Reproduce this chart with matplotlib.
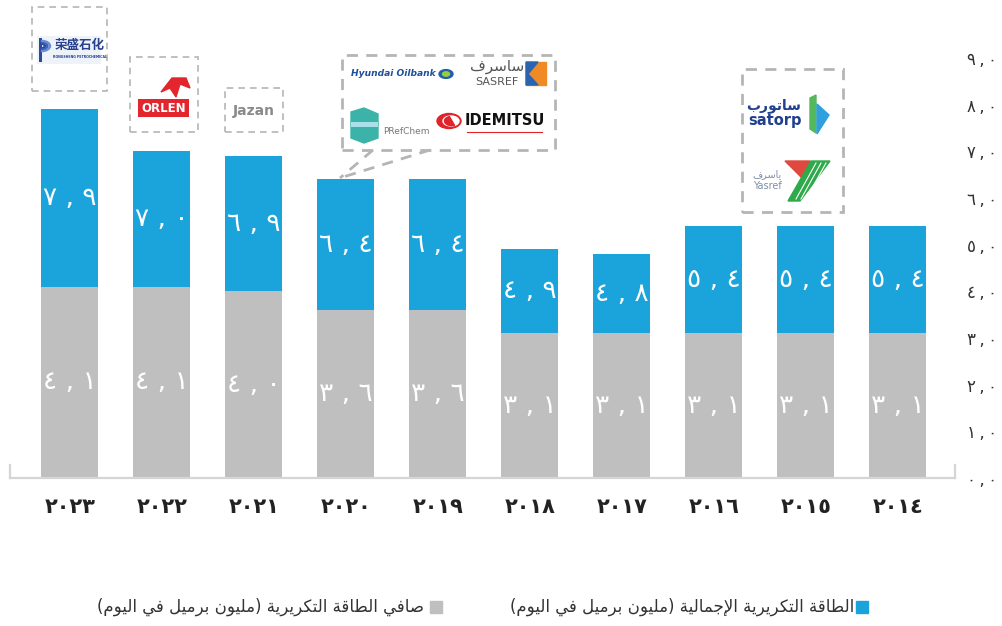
import unicodedata as ud
import matplotlib
matplotlib.use("Agg")
import matplotlib.pyplot as plt
from matplotlib.patches import Rectangle, Circle, Polygon, Wedge
from matplotlib.lines import Line2D

# ---------------- data ----------------
years = [2023, 2022, 2021, 2020, 2019, 2018, 2017, 2016, 2015, 2014]
total_capacity = [7.9, 7.0, 6.9, 6.4, 6.4, 4.9, 4.8, 5.4, 5.4, 5.4]
net_capacity = [4.1, 4.1, 4.0, 3.6, 3.6, 3.1, 3.1, 3.1, 3.1, 3.1]
y_ticks = [0, 1, 2, 3, 4, 5, 6, 7, 8, 9]
legend_total = "الطاقة التكريرية الإجمالية (مليون برميل في اليوم)"
legend_net = "صافي الطاقة التكريرية (مليون برميل في اليوم)"

BLUE = "#1ba3dc"
GREY = "#bfbfbf"
TXT = "#333333"

AR_DIG = str.maketrans("0123456789", "٠١٢٣٤٥٦٧٨٩")


def ar_num(v, sep=" , "):
    s = f"{v:.1f}".translate(AR_DIG)
    return s.replace(".", sep)


def shape_ar(s):
    RIGHT = set("اأإآدذرزوؤةى")
    NONE = set("ء")

    def is_ar(c):
        return "\u0621" <= c <= "\u064A"

    def dual(c):
        return is_ar(c) and c not in RIGHT and c not in NONE

    def joins_prev(c):
        return is_ar(c) and c not in NONE

    out = []
    i, n = 0, len(s)
    while i < n:
        c = s[i]
        if not is_ar(c):
            out.append(c)
            i += 1
            continue
        p = s[i - 1] if i > 0 else ""
        pj = bool(p) and dual(p)
        if c == "ل" and i + 1 < n and s[i + 1] in "اأإآ":
            a = s[i + 1]
            base = "ARABIC LIGATURE LAM WITH " + ud.name(a)[len("ARABIC LETTER "):]
            out.append(ud.lookup(base + (" FINAL FORM" if pj else " ISOLATED FORM")))
            i += 2
            continue
        nx = s[i + 1] if i + 1 < n else ""
        nj = dual(c) and bool(nx) and joins_prev(nx)
        form = "MEDIAL" if (pj and nj) else "FINAL" if pj else "INITIAL" if nj else "ISOLATED"
        out.append(ud.lookup(ud.name(c) + " " + form + " FORM"))
        i += 1
    vis = "".join(out)[::-1]
    return vis.translate(str.maketrans("()", ")("))


W, H = 1003, 626
fig = plt.figure(figsize=(W / 100, H / 100), dpi=100)
plt.rcParams["font.family"] = ["DejaVu Sans"]


def fx(x):
    return x / W


def fy(y):
    return 1 - y / H


ax = fig.add_axes([fx(10), fy(478), fx(955) - fx(10), fy(58) - fy(478)])
xs = list(range(len(years)))
bw = 0.62
blue_h = [t - n for t, n in zip(total_capacity, net_capacity)]
ax.bar(xs, net_capacity, width=bw, color=GREY, zorder=2)
ax.bar(xs, blue_h, bottom=net_capacity, width=bw, color=BLUE, zorder=2)

for x, t, n in zip(xs, total_capacity, net_capacity):
    ax.text(x, n / 2, ar_num(n), ha="center", va="center", color="white",
            fontsize=19, zorder=3)
    ax.text(x, (t + n) / 2, ar_num(t), ha="center", va="center", color="white",
            fontsize=19, zorder=3)

ax.set_xlim(-0.65, 9.62)
ax.set_ylim(0, 9)
ax.set_xticks(xs)
ax.set_xticklabels([str(y).translate(AR_DIG) for y in years], fontsize=15,
                   color="#222222", fontweight="bold")
ax.yaxis.tick_right()
ax.set_yticks(y_ticks)
ax.set_yticklabels([ar_num(v, "\u2009,\u2009") for v in y_ticks], fontsize=12,
                   color=TXT)
ax.tick_params(axis="x", length=0, pad=14)
ax.tick_params(axis="y", length=0, pad=9)
for sp in ["top", "left", "right"]:
    ax.spines[sp].set_visible(False)
ax.spines["bottom"].set_color("#d5d5d5")
ax.spines["bottom"].set_linewidth(1.6)
ax.set_facecolor("none")
# small end caps of the baseline
fig.add_artist(Line2D([fx(10), fx(10)], [fy(478), fy(465)], color="#d5d5d5", lw=1.6))
fig.add_artist(Line2D([fx(955), fx(955)], [fy(478), fy(465)], color="#d5d5d5", lw=1.6))

# ---------------- legend ----------------
fig.add_artist(Rectangle((fx(856), fy(613)), fx(12), fy(601) - fy(613), color=BLUE))
fig.text(fx(854), fy(607), shape_ar(legend_total), ha="right", va="center",
         fontsize=12, color=TXT)
fig.add_artist(Rectangle((fx(430), fy(613)), fx(12), fy(601) - fy(613), color=GREY))
fig.text(fx(424), fy(607), shape_ar(legend_net), ha="right", va="center",
         fontsize=12, color=TXT)

# ---------------- logo boxes ----------------
DASH = dict(fill=False, edgecolor="#b5b5b5", lw=1.5, linestyle=(0, (4, 3)))


def box(x0, y0, x1, y1, **kw):
    d = dict(DASH)
    d.update(kw)
    fig.add_artist(Rectangle((fx(x0), fy(y1)), fx(x1 - x0), fy(y0) - fy(y1), **d))


def rect(x0, y0, x1, y1, color):
    fig.add_artist(Rectangle((fx(x0), fy(y1)), fx(x1 - x0), fy(y0) - fy(y1),
                             color=color, lw=0))


# Rongsheng
box(32, 7, 107, 91, lw=1.2)
rect(37, 36, 101, 64, "#eef3fa")
rect(39, 38, 41.5, 62, "#2b4a9b")
for k, c in enumerate(["#2b4a9b", "#3d63b8", "#6d8fd0"]):
    fig.add_artist(Wedge((fx(41.5), fy(46)), fx(4 + 2.5 * k), -90, 90, width=fx(1.2),
                         color=c, transform=fig.transFigure))
fig.text(fx(80), fy(46), "荣盛石化", family=["Noto Sans CJK SC"], fontsize=9,
         color="#27418f", ha="center", va="center", fontweight="bold")
fig.text(fx(80), fy(57), "RONGSHENG PETROCHEMICAL", fontsize=2.3, color="#27418f",
         ha="center", va="center", fontweight="bold")

# Orlen
box(130, 57, 198, 132, lw=1.2)
fig.add_artist(Polygon([[fx(161), fy(92)], [fx(172), fy(78)], [fx(186), fy(78)],
                        [fx(190), fy(88)], [fx(180), fy(84)], [fx(176), fy(97)],
                        [fx(170), fy(88)]], closed=True, color="#e3262e"))
rect(138, 99, 189, 117, "#e3262e")
fig.text(fx(163.5), fy(108), "ORLEN", fontsize=8.5, color="white", ha="center",
         va="center", fontweight="bold")

# Jazan
box(225, 88, 283, 132, lw=1.2)
fig.text(fx(254), fy(111), "Jazan", fontsize=10, color="#8a8a8a", ha="center",
         va="center", fontweight="bold")

# group box 2020
box(342, 55, 555, 150, lw=2)
fig.add_artist(Line2D([fx(373), fx(340)], [fy(150), fy(178)], color="#b5b5b5", lw=2,
                      linestyle=(0, (4, 3))))
fig.add_artist(Line2D([fx(430), fx(340)], [fy(150), fy(178)], color="#b5b5b5", lw=2,
                      linestyle=(0, (4, 3))))
fig.text(fx(393), fy(74), "Hyundai Oilbank", fontsize=6.6, color="#1d4f9f",
         ha="center", va="center", fontweight="bold", style="italic")
fig.add_artist(Circle((fx(446), fy(74)), fx(7), color="#1f5fae",
                      transform=fig.transFigure))
fig.add_artist(Circle((fx(446), fy(74)), fx(3.5), color="#9ccc3c",
                      transform=fig.transFigure))
fig.text(fx(497), fy(66), shape_ar("ساسرف"), fontsize=11, color="#555555",
         ha="center", va="center")
fig.text(fx(497), fy(82), "SASREF", fontsize=8, color="#555555", ha="center",
         va="center")
fig.add_artist(Polygon([[fx(526), fy(62)], [fx(546), fy(62)], [fx(546), fy(85)],
                        [fx(526), fy(85)]], closed=True, color="#f08a24"))
fig.add_artist(Polygon([[fx(526), fy(62)], [fx(538), fy(62)], [fx(528), fy(74)],
                        [fx(538), fy(85)], [fx(526), fy(85)]], closed=True,
                       color="#2a64b0"))
# PRefChem
fig.add_artist(Polygon([[fx(351), fy(112)], [fx(364), fy(108)], [fx(378), fy(114)],
                        [fx(378), fy(138)], [fx(364), fy(143)], [fx(351), fy(138)]],
                       closed=True, color="#3bb3a8"))
rect(351, 122, 378, 127, "#a9dfe8")
fig.text(fx(406), fy(131), "PRefChem", fontsize=6.5, color="#777777", ha="center",
         va="center")
# Idemitsu
fig.add_artist(Circle((fx(449), fy(121)), fx(12), color="#e0242b",
                      transform=fig.transFigure))
fig.add_artist(Circle((fx(451), fy(121)), fx(8), color="white",
                      transform=fig.transFigure))
fig.add_artist(Wedge((fx(452), fy(121)), fx(7.5), 110, 290, color="#e0242b",
                     transform=fig.transFigure))
fig.text(fx(505), fy(120), "IDEMITSU", fontsize=10.5, color="#111111", ha="center",
         va="center", fontweight="bold")
fig.add_artist(Line2D([fx(467), fx(542)], [fy(132), fy(132)], color="#e0242b", lw=0.8))

# Satorp / Yasref box
box(742, 69, 843, 212, lw=2)
fig.text(fx(774), fy(106), shape_ar("ساتورب"), fontsize=10, color="#1f3f8f",
         ha="center", va="center", fontweight="bold")
fig.text(fx(775), fy(121), "satorp", fontsize=10.5, color="#1f3f8f", ha="center",
         va="center", fontweight="bold")
fig.add_artist(Polygon([[fx(810), fy(98)], [fx(816), fy(95)], [fx(816), fy(133)],
                        [fx(810), fy(129)]], closed=True, color="#54b85c"))
fig.add_artist(Polygon([[fx(817), fy(104)], [fx(829), fy(115)], [fx(817), fy(134)]],
                       closed=True, color="#2fa0dd"))
fig.text(fx(767), fy(174), shape_ar("ياسرف"), fontsize=7, color="#7d8ea8",
         ha="center", va="center")
fig.text(fx(767), fy(186), "Yasref", fontsize=7, color="#7d8ea8", ha="center",
         va="center")
fig.add_artist(Polygon([[fx(785), fy(161)], [fx(810), fy(161)], [fx(806), fy(182)]],
                       closed=True, color="#de4a3e"))
fig.add_artist(Polygon([[fx(811), fy(161)], [fx(830), fy(161)], [fx(800), fy(201)],
                        [fx(788), fy(201)]], closed=True, color="#2eaa4a"))
for k in range(3):
    fig.add_artist(Line2D([fx(816 + 5 * k), fx(796 + 5 * k)], [fy(163), fy(199)],
                          color="white", lw=0.8))

fig.savefig("out.png", dpi=100)
